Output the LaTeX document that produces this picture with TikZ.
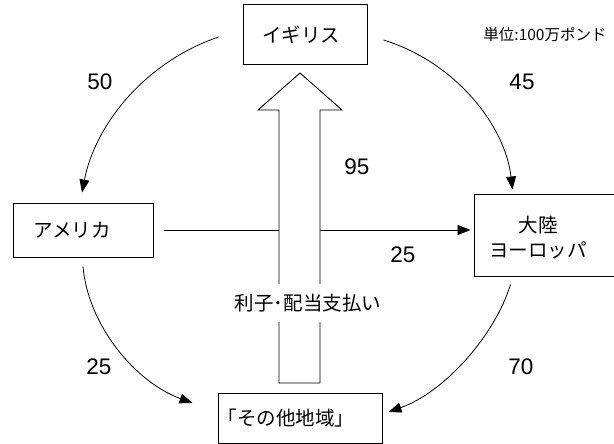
\documentclass[tikz,border=0pt]{standalone}
\usepackage{fontspec}
\setmainfont{Liberation Sans}
\newfontfamily\jp{Noto Sans CJK JP}
\usetikzlibrary{arrows.meta}
\begin{document}
\begin{tikzpicture}[x=1pt,y=-1pt,
  box/.style={draw, line width=1pt, rectangle, inner sep=0pt},
  jpt/.style={font=\jp\fontsize{19.5}{25}\selectfont, inner sep=0pt},
  num/.style={font=\fontsize{22.5}{25}\selectfont},
  flow/.style={line width=0.8pt, -{Triangle[length=13pt,width=10pt]}},
  bigarrow/.style={line width=0.9pt, fill=white}
]
\useasboundingbox (0,0) rectangle (614,444);
\clip (0,0) rectangle (614,444);

% boxes
\node[box, minimum width=124pt, minimum height=60pt] (uk) at (305,35) {};
\node[jpt] (ukt) at (301,35) {イギリス};
\node[box, minimum width=140pt, minimum height=54pt] (am) at (83,230) {};
\node[jpt] (amt) at (72,230) {アメリカ};
\node[box, minimum width=150pt, minimum height=82pt] (eu) at (549,235) {};
\node[jpt, align=center] (eut) at (538,237.5) {大陸\\ヨーロッパ};
\node[box, minimum width=164pt, minimum height=50pt] (ot) at (300,418) {};
\node[jpt] (ott) at (286,418) {「その他地域」};

% unit
\node[font=\jp\fontsize{15.5}{17}\selectfont] (unit) at (545,35) {単位:100万ポンド};

% horizontal flow
\draw[flow, shorten >=3pt] ([xshift=10pt]am.east) -- (eu.west |- am.east);

% big arrow
\draw[bigarrow] (279,383) -- (279,110) -- (258,110) -- (300,73) -- (342,110) -- (320,110) -- (320,383) -- cycle;
\node[jpt, fill=white, minimum height=38pt, inner xsep=0pt] (lbl) at (308,303) {利子･配当支払い};

% curved flows
\draw[flow] ([xshift=-24pt,yshift=-2pt]uk.west) .. controls (145,62) and (95,125) .. ([xshift=-1pt,yshift=10pt]am.north);
\draw[flow] ([xshift=16pt,yshift=-5pt]uk.east) .. controls (455,62) and (505,125) .. ([xshift=39pt,yshift=4pt]eu.north west);
\draw[flow] ([yshift=-9pt]am.south) .. controls (88,325) and (135,382) .. ([xshift=-25pt,yshift=15pt]ot.west);
\draw[flow] ([xshift=37pt,yshift=-8pt]eu.south west) .. controls (495,335) and (445,392) .. ([xshift=6pt,yshift=6pt]ot.east);

% numbers
\node[num] (n50) at (100,82) {50};
\node[num] (n45) at (522,82) {45};
\node[num] (n95) at (357,167) {95};
\node[num] (n25a) at (403,255) {25};
\node[num] (n25b) at (99,367) {25};
\node[num] (n70) at (521,367) {70};
\end{tikzpicture}
\end{document}
